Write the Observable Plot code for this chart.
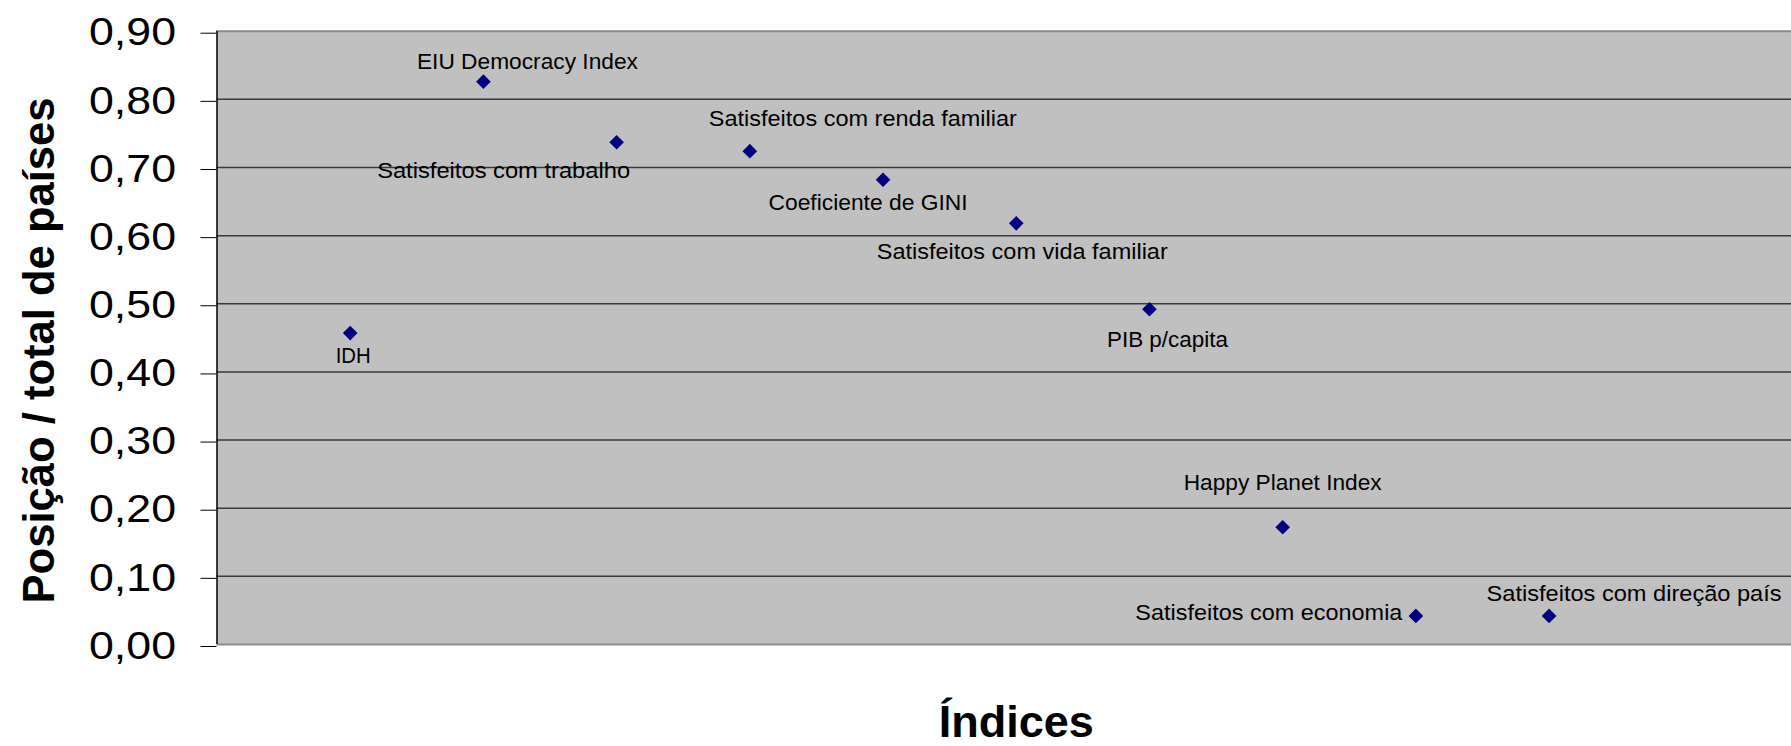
<!DOCTYPE html>
<html>
<head>
<meta charset="utf-8">
<script src="https://cdn.jsdelivr.net/npm/d3@7"></script>
<script src="https://cdn.jsdelivr.net/npm/@observablehq/plot@0.6"></script>
<style>
  html, body { margin: 0; padding: 0; background: #ffffff; }
  #wrap { width: 1791px; height: 746px; overflow: hidden; }
  #wrap svg { max-width: none !important; }
</style>
</head>
<body>
<div id="wrap"></div>
<script>
// ---- data ----
const categories = [
  "IDH",
  "EIU Democracy Index",
  "Satisfeitos com trabalho",
  "Satisfeitos com renda familiar",
  "Coeficiente de GINI",
  "Satisfeitos com vida familiar",
  "PIB p/capita",
  "Happy Planet Index",
  "Satisfeitos com economia",
  "Satisfeitos com direção país"
];
const values = [0.457, 0.826, 0.737, 0.724, 0.682, 0.618, 0.492, 0.172, 0.042, 0.042];
const yTicks = [0, 0.1, 0.2, 0.3, 0.4, 0.5, 0.6, 0.7, 0.8, 0.9];
const yTickLabels = ["0,00", "0,10", "0,20", "0,30", "0,40", "0,50", "0,60", "0,70", "0,80", "0,90"];
const yTitle = "Posição / total de países";
const xTitle = "Índices";

// label layout: [dx to label centre, dy to baseline, rendered text width] in pixels
const labelLayout = [
  [3, 30, 35], [44, -13, 221], [-113, 36, 253], [113, -25, 308], [-15, 30, 199],
  [6, 36, 291], [18, 38, 121], [0, -37, 198], [-147, 4, 267], [85, -15, 295]
];

const rows = categories.map((name, i) => ({name, idx: i + 1, value: values[i]}));

const FONT = "'Liberation Sans', Arial, sans-serif";

const labelMarks = rows.map((r, i) => Plot.text([r], {
  x: "idx", y: "value", text: "name",
  dx: labelLayout[i][0], dy: labelLayout[i][1],
  lineAnchor: "bottom", textAnchor: "middle",
  fontSize: 22.5, fill: "#000000", fontFamily: FONT
}));

const chart = Plot.plot({
  width: 1815,
  height: 746,
  marginLeft: 216.5,
  marginRight: 0,
  marginTop: 30.7,
  marginBottom: 102,
  style: {fontFamily: FONT, background: "#ffffff", color: "#000000", maxWidth: "none"},
  x: {domain: [0, 12], axis: null},
  y: {domain: [0, 0.9], axis: null},
  marks: [
    Plot.frame({fill: "#c0c0c0", stroke: null}),
    Plot.ruleY(yTicks.filter(t => t > 0 && t < 0.9), {stroke: "#3a3a3a", strokeWidth: 1.5}),
    Plot.ruleY([0.9, 0], {stroke: "#8a8a8a", strokeWidth: 2}),
    Plot.ruleX([0], {stroke: "#000000", strokeWidth: 1.5}),
    Plot.axisY({
      ticks: yTicks,
      tickFormat: d => yTickLabels[Math.round(d * 10)],
      tickSize: 16,
      tickPadding: 25,
      fontSize: 38,
      dy: 2,
      stroke: "#000000",
      fill: "#000000",
      label: null
    }),
    Plot.dot(rows, {x: "idx", y: "value", symbol: "diamond2", r: 6.6, fill: "#000080", stroke: null}),
    ...labelMarks,
    Plot.text([yTitle], {
      frameAnchor: "left", rotate: -90, dx: -163.5, dy: 12.6,
      lineAnchor: "bottom", textAnchor: "middle",
      fontSize: 44, fontWeight: "bold", fill: "#000000", fontFamily: FONT
    }),
    Plot.text([xTitle], {
      frameAnchor: "bottom", dy: 92,
      lineAnchor: "bottom", textAnchor: "middle",
      fontSize: 45, fontWeight: "bold", fill: "#000000", fontFamily: FONT
    })
  ]
});
document.getElementById("wrap").appendChild(chart);

// fit text widths to the reference
d3.select(chart).selectAll("text").each(function() {
  const t = this.textContent;
  const i = categories.indexOf(t);
  if (i >= 0) {
    d3.select(this).attr("textLength", labelLayout[i][2]).attr("lengthAdjust", "spacingAndGlyphs");
  } else if (yTickLabels.includes(t)) {
    d3.select(this).attr("textLength", 87).attr("lengthAdjust", "spacingAndGlyphs");
  } else if (t === yTitle) {
    d3.select(this).attr("textLength", 506).attr("lengthAdjust", "spacingAndGlyphs");
  } else if (t === xTitle) {
    d3.select(this).attr("textLength", 155).attr("lengthAdjust", "spacingAndGlyphs");
  }
});
</script>
</body>
</html>
